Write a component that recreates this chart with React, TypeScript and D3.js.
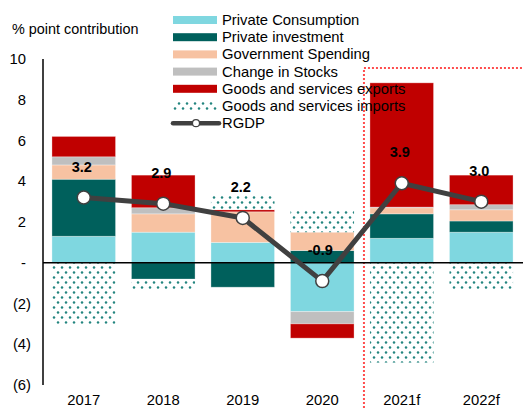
import React, { useEffect, useRef } from 'react';
import * as d3 from 'd3';

const years = ['2017', '2018', '2019', '2020', '2021f', '2022f'];
const consumption = [1.3, 1.5, 1.0, -2.4, 1.2, 1.5];
const investment = [2.8, -0.8, -1.2, 0.6, 1.2, 0.55];
const government = [0.7, 0.9, 1.5, 0.9, 0.3, 0.55];
const stocks = [0.4, 0.3, 0, -0.6, 0.03, 0.25];
const exportsG = [1.0, 1.6, 0.1, -0.7, 6.1, 1.45];
const importsG = [-3.0, -0.55, 0.7, 1.1, -4.9, -1.3];
const rgdp = [3.2, 2.9, 2.2, -0.9, 3.9, 3.0];
const yTicks = [10, 8, 6, 4, 2, 0, -2, -4, -6];

const seriesNames = [
  'Private Consumption',
  'Private investment',
  'Government Spending',
  'Change in Stocks',
  'Goods and services exports',
  'Goods and services imports',
];
const seriesValues = [consumption, investment, government, stocks, exportsG, importsG];
const seriesColors = ['#7fd7e0', '#00605c', '#f7c2a2', '#bfbfbf', '#c00000', 'url(#dots)'];

function fmt(v: number) {
  if (v === 0) return '-';
  if (v < 0) return `(${Math.abs(v)})`;
  return String(v);
}

export default function App() {
  const svgRef = useRef<SVGSVGElement>(null);

  useEffect(() => {
    const svg = d3.select(svgRef.current);
    svg.selectAll('*').remove();
    const font = 'Liberation Sans, Arial, sans-serif';
    const fs = '14.8px';

    const x = d3.scaleBand().domain(years).range([44, 521]).paddingInner(0.2).paddingOuter(0.1);
    const y = d3.scaleLinear().domain([-6, 10]).range([385, 59]);

    // dotted pattern for imports
    const defs = svg.append('defs');
    const pat = defs.append('pattern')
      .attr('id', 'dots')
      .attr('patternUnits', 'userSpaceOnUse')
      .attr('width', 8).attr('height', 10);
    pat.append('rect').attr('width', 8).attr('height', 10).attr('fill', '#fff');
    pat.append('circle').attr('cx', 2).attr('cy', 2.5).attr('r', 1.25).attr('fill', '#23857f');
    pat.append('circle').attr('cx', 6).attr('cy', 7.5).attr('r', 1.25).attr('fill', '#23857f');

    // stacked bars (positives up, negatives down)
    years.forEach((yr, i) => {
      let pos = 0;
      let neg = 0;
      seriesValues.forEach((vals, s) => {
        const v = vals[i];
        if (!v) return;
        let y0: number, y1: number;
        if (v > 0) { y0 = pos; y1 = pos + v; pos = y1; }
        else { y0 = neg; y1 = neg + v; neg = y1; }
        svg.append('rect')
          .attr('x', x(yr)!)
          .attr('width', x.bandwidth())
          .attr('y', y(Math.max(y0, y1)))
          .attr('height', Math.abs(y(y0) - y(y1)))
          .attr('fill', seriesColors[s])
          .attr('stroke', s === 5 ? 'none' : '#fff')
          .attr('stroke-opacity', 0.4)
          .attr('stroke-width', 0.8);
      });
    });

    // red dotted forecast box
    const fx = x('2021f')! - 6;
    svg.append('path')
      .attr('d', `M${fx},408 L${fx},68 L523,68`)
      .attr('fill', 'none')
      .attr('stroke', '#ff4d4d')
      .attr('stroke-width', 2)
      .attr('stroke-dasharray', '2,2');

    // axes
    svg.append('line')
      .attr('x1', 43).attr('x2', 523)
      .attr('y1', y(0)).attr('y2', y(0))
      .attr('stroke', '#000').attr('stroke-width', 1.5);
    svg.append('line')
      .attr('x1', 43).attr('x2', 43)
      .attr('y1', y(10)).attr('y2', y(-6))
      .attr('stroke', '#000').attr('stroke-width', 1.5);

    svg.selectAll('text.ytick')
      .data(yTicks)
      .enter()
      .append('text')
      .attr('class', 'ytick')
      .attr('x', d => (d < 0 ? 31 : 26))
      .attr('y', d => y(d) + 5)
      .attr('text-anchor', 'end')
      .style('font-family', font)
      .style('font-size', fs)
      .text(fmt);

    svg.selectAll('text.xtick')
      .data(years)
      .enter()
      .append('text')
      .attr('class', 'xtick')
      .attr('x', d => x(d)! + x.bandwidth() / 2)
      .attr('y', 405)
      .attr('text-anchor', 'middle')
      .style('font-family', font)
      .style('font-size', fs)
      .text(d => d);

    svg.append('text')
      .attr('x', 12).attr('y', 34)
      .style('font-family', font)
      .style('font-size', '14.4px')
      .text('% point contribution');

    // RGDP line
    const line = d3.line<number>()
      .x((_, i) => x(years[i])! + x.bandwidth() / 2)
      .y(d => y(d));
    svg.append('path')
      .datum(rgdp)
      .attr('d', line)
      .attr('fill', 'none')
      .attr('stroke', '#404040')
      .attr('stroke-width', 5);
    svg.selectAll('circle.pt')
      .data(rgdp)
      .enter()
      .append('circle')
      .attr('class', 'pt')
      .attr('cx', (_, i) => x(years[i])! + x.bandwidth() / 2)
      .attr('cy', d => y(d))
      .attr('r', 6.5)
      .attr('fill', '#fff')
      .attr('stroke', '#404040')
      .attr('stroke-width', 1.5);
    svg.selectAll('text.lbl')
      .data(rgdp)
      .enter()
      .append('text')
      .attr('class', 'lbl')
      .attr('x', (_, i) => x(years[i])! + x.bandwidth() / 2 - 2)
      .attr('y', d => y(d) - 26)
      .attr('text-anchor', 'middle')
      .style('font-family', font)
      .style('font-size', '14.5px')
      .style('font-weight', 'bold')
      .text(d => d.toFixed(1));

    // legend
    const lg = svg.append('g').attr('transform', 'translate(173,20)');
    seriesNames.forEach((name, i) => {
      const row = lg.append('g').attr('transform', `translate(0,${i * 17.2})`);
      row.append('rect')
        .attr('x', 0).attr('y', -4)
        .attr('width', 44).attr('height', 8)
        .attr('fill', seriesColors[i]);
      row.append('text')
        .attr('x', 49).attr('y', 5)
        .style('font-family', font)
        .style('font-size', fs)
        .text(name);
    });
    const rr = lg.append('g').attr('transform', `translate(0,${6 * 17.2})`);
    rr.append('line')
      .attr('x1', 0).attr('x2', 46)
      .attr('stroke', '#404040').attr('stroke-width', 4.5)
      .attr('stroke-linecap', 'round');
    rr.append('circle')
      .attr('cx', 23).attr('r', 3.5)
      .attr('fill', '#fff').attr('stroke', '#404040').attr('stroke-width', 1.2);
    rr.append('text')
      .attr('x', 49).attr('y', 5)
      .style('font-family', font)
      .style('font-size', fs)
      .text('RGDP');
  }, []);

  return (
    <svg ref={svgRef} width={523} height={408}
      style={{ position: 'absolute', left: 0, top: 0, background: '#fff' }} />
  );
}
